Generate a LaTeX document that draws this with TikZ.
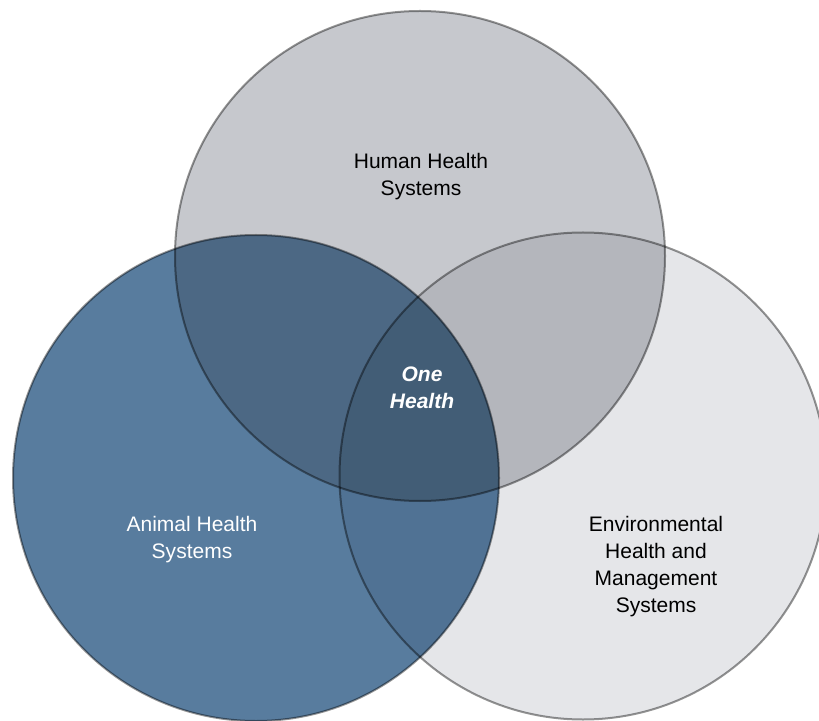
\documentclass[tikz,border=0pt]{standalone}
\usepackage{fontspec}
\setmainfont{Liberation Sans}
\usetikzlibrary{positioning}
\definecolor{ohblue}{RGB}{88,124,158}
\definecolor{ohgray}{RGB}{198,200,205}
\definecolor{ohlight}{RGB}{229,230,233}
\definecolor{ohha}{RGB}{76,104,132}
\definecolor{ohhe}{RGB}{180,182,188}
\definecolor{ohae}{RGB}{80,114,148}
\definecolor{ohall}{RGB}{66,93,118}

\begin{document}
\begin{tikzpicture}[
    x=0.5pt, y=-0.5pt,
    sphere/.style={circle, draw=black, draw opacity=0.42, line width=1pt, inner sep=0pt},
    tag/.style={align=center, font=\fontsize{10.5}{13.5}\selectfont}
]
\useasboundingbox (0,0) rectangle (819,721);

\coordinate (hc) at (420,256);
\coordinate (ac) at (256,478);
\coordinate (ec) at (583,476);

% Fills
\fill[ohgray] (hc) circle[radius=122.5pt];
\fill[ohlight] (ec) circle[radius=121.75pt];
\fill[ohblue] (ac) circle[radius=121.5pt];
\begin{scope}
  \clip (hc) circle[radius=122.5pt];
  \fill[ohhe] (ec) circle[radius=121.75pt];
  \fill[ohha] (ac) circle[radius=121.5pt];
\end{scope}
\begin{scope}
  \clip (ec) circle[radius=121.75pt];
  \fill[ohae] (ac) circle[radius=121.5pt];
  \clip (hc) circle[radius=122.5pt];
  \fill[ohall] (ac) circle[radius=121.5pt];
\end{scope}

% The three systems
\node (human) [sphere, minimum size=245pt] at (hc) {};
\node (animal) [sphere, minimum size=243pt] at (ac) {};
\node (env) [sphere, minimum size=243.5pt] at (ec) {};

% Labels
\node (humantag) [tag] at (421,177) {Human Health\\Systems};
\node (animaltag) [tag, text=white] at (192,540) {Animal Health\\Systems};
\node (envtag) [tag] at (656,567) {Environmental\\Health and\\Management\\Systems};
\node (one) [tag, text=white, font=\fontsize{10.5}{13.5}\selectfont\bfseries\itshape] at (422,388) {One\\Health};
\end{tikzpicture}
\end{document}
